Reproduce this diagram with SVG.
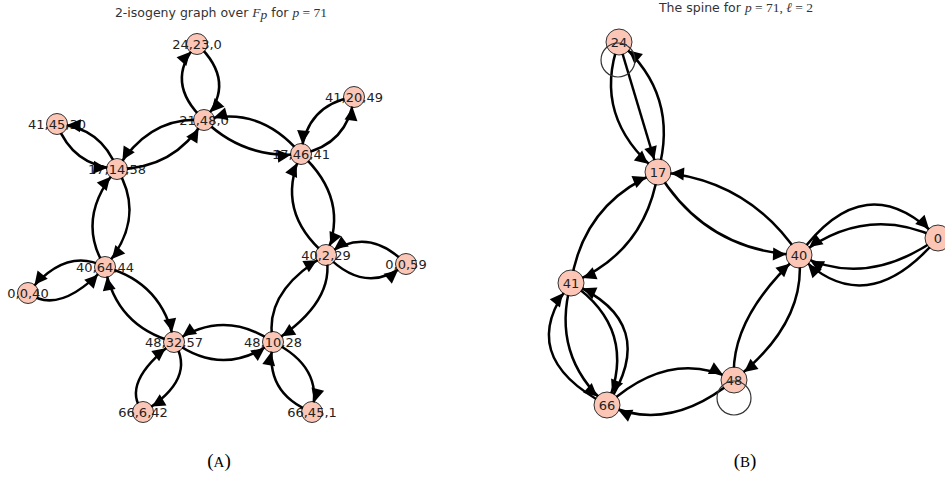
<svg xmlns="http://www.w3.org/2000/svg" width="945" height="478" viewBox="0 0 945 478">
<style>
.e{fill:none;stroke:#000;stroke-width:2.5}
.ea{marker-end:url(#arrA)}
.eb{marker-end:url(#arrB)}
.n{fill:#fbc6b6;stroke:#333;stroke-width:1}
.lbl{font-family:"DejaVu Sans",sans-serif;font-size:13px;fill:#222;text-anchor:middle}
.loop{fill:none;stroke:#333;stroke-width:1.2}
.title{font-family:"DejaVu Sans",sans-serif;font-size:12.5px;fill:#333;text-anchor:middle}
.math{font-family:"Liberation Serif",serif;font-style:italic;font-size:13.5px}
.num{font-family:"Liberation Serif",serif;font-size:13.5px}
.cap{font-family:"Liberation Serif",serif;font-size:19px;fill:#000;text-anchor:middle}
</style>
<defs>
<marker id="arrA" markerUnits="userSpaceOnUse" markerWidth="30" markerHeight="14" refX="23.5" refY="0" orient="auto" overflow="visible"><path d="M0,-6.5 L13,0 L0,6.5 z" fill="#000"/></marker>
<marker id="arrB" markerUnits="userSpaceOnUse" markerWidth="30" markerHeight="14" refX="26" refY="0" orient="auto" overflow="visible"><path d="M0,-6.5 L13,0 L0,6.5 z" fill="#000"/></marker>
<mask id="nodemask" maskUnits="userSpaceOnUse" x="0" y="0" width="945" height="478">
<rect x="0" y="0" width="945" height="478" fill="#fff"/>
<g fill="#000">
<circle cx="197" cy="44" r="10"/><circle cx="204" cy="120" r="10"/><circle cx="57" cy="124" r="10"/>
<circle cx="117" cy="169" r="10"/><circle cx="301" cy="154" r="10"/><circle cx="354" cy="97" r="10"/>
<circle cx="326" cy="255" r="10"/><circle cx="406" cy="264" r="10"/><circle cx="105" cy="267" r="10"/>
<circle cx="28" cy="293" r="10"/><circle cx="174" cy="342" r="10"/><circle cx="273" cy="342" r="10"/>
<circle cx="143" cy="412" r="10"/><circle cx="312" cy="412" r="10"/>
<circle cx="619" cy="42" r="12.5"/><circle cx="658" cy="172" r="12.5"/><circle cx="799" cy="255" r="12.5"/>
<circle cx="938" cy="238" r="12.5"/><circle cx="571" cy="283" r="12.5"/><circle cx="607" cy="405" r="12.5"/>
<circle cx="734" cy="380" r="12.5"/>
</g>
</mask>
</defs>
<rect width="945" height="478" fill="#fff"/>

<text class="title" x="221" y="17">2-isogeny graph over <tspan class="math">F</tspan><tspan class="math" font-size="9" dy="2">p</tspan><tspan dy="-2"> for </tspan><tspan class="math">p</tspan><tspan class="num"> = 71</tspan></text>
<text class="title" x="736" y="12">The spine for <tspan class="math">p</tspan><tspan class="num"> = 71, </tspan><tspan class="math">ℓ</tspan><tspan class="num"> = 2</tspan></text>

<g id="n-24-23-0"><circle class="n" cx="197" cy="44" r="10.5"/><text class="lbl" x="197" y="48.7">24,23,0</text></g>
<g id="n-21-48-0"><circle class="n" cx="204" cy="120" r="10.5"/><text class="lbl" x="204" y="124.7">21,48,0</text></g>
<g id="n-41-45-30"><circle class="n" cx="57" cy="124" r="10.5"/><text class="lbl" x="57" y="128.7">41,45,30</text></g>
<g id="n-17-14-58"><circle class="n" cx="117" cy="169" r="10.5"/><text class="lbl" x="117" y="173.7">17,14,58</text></g>
<g id="n-17-46-41"><circle class="n" cx="301" cy="154" r="10.5"/><text class="lbl" x="301" y="158.7">17,46,41</text></g>
<g id="n-41-20-49"><circle class="n" cx="354" cy="97" r="10.5"/><text class="lbl" x="354" y="101.7">41,20,49</text></g>
<g id="n-40-2-29"><circle class="n" cx="326" cy="255" r="10.5"/><text class="lbl" x="326" y="259.7">40,2,29</text></g>
<g id="n-0-0-59"><circle class="n" cx="406" cy="264" r="10.5"/><text class="lbl" x="406" y="268.7">0,0,59</text></g>
<g id="n-40-64-44"><circle class="n" cx="105" cy="267" r="10.5"/><text class="lbl" x="105" y="271.7">40,64,44</text></g>
<g id="n-0-0-40"><circle class="n" cx="28" cy="293" r="10.5"/><text class="lbl" x="28" y="297.7">0,0,40</text></g>
<g id="n-48-32-57"><circle class="n" cx="174" cy="342" r="10.5"/><text class="lbl" x="174" y="346.7">48,32,57</text></g>
<g id="n-48-10-28"><circle class="n" cx="273" cy="342" r="10.5"/><text class="lbl" x="273" y="346.7">48,10,28</text></g>
<g id="n-66-6-42"><circle class="n" cx="143" cy="412" r="10.5"/><text class="lbl" x="143" y="416.7">66,6,42</text></g>
<g id="n-66-45-1"><circle class="n" cx="312" cy="412" r="10.5"/><text class="lbl" x="312" y="416.7">66,45,1</text></g>

<g id="s-24"><circle class="n" cx="619" cy="42" r="13"/><text class="lbl" x="619" y="46.7">24</text></g>
<g id="s-17"><circle class="n" cx="658" cy="172" r="13"/><text class="lbl" x="658" y="176.7">17</text></g>
<g id="s-40"><circle class="n" cx="799" cy="255" r="13"/><text class="lbl" x="799" y="259.7">40</text></g>
<g id="s-0"><circle class="n" cx="938" cy="238" r="13"/><text class="lbl" x="938" y="242.7">0</text></g>
<g id="s-41"><circle class="n" cx="571" cy="283" r="13"/><text class="lbl" x="571" y="287.7">41</text></g>
<g id="s-66"><circle class="n" cx="607" cy="405" r="13"/><text class="lbl" x="607" y="409.7">66</text></g>
<g id="s-48"><circle class="n" cx="734" cy="380" r="13"/><text class="lbl" x="734" y="384.7">48</text></g>

<g id="connectors">
<g mask="url(#nodemask)">
<g class="e ea">
<path d="M204,120 Q163.5,82 197,44"/>
<path d="M197,44 Q237.5,82 204,120"/>
<path d="M204,120 Q149.5,115.5 117,169"/>
<path d="M117,169 Q174.3,168.9 204,120"/>
<path d="M301,154 Q259.5,105 204,120"/>
<path d="M204,120 Q244.5,159.6 301,154"/>
<path d="M117,169 Q101.4,127.3 57,124"/>
<path d="M57,124 Q72.6,165.7 117,169"/>
<path d="M354,97 Q306.5,104.5 301,154"/>
<path d="M301,154 Q347.9,144.5 354,97"/>
<path d="M301,154 Q350.5,199.5 326,255"/>
<path d="M326,255 Q274.5,211.5 301,154"/>
<path d="M406,264 Q368,224.5 326,255"/>
<path d="M326,255 Q366,296.5 406,264"/>
<path d="M326,255 Q336.5,301.5 273,342"/>
<path d="M273,342 Q262.5,291.5 326,255"/>
<path d="M273,342 Q223.5,308 174,342"/>
<path d="M174,342 Q223.5,378 273,342"/>
<path d="M273,342 Q323.5,367 312,412"/>
<path d="M312,412 Q263.5,393 273,342"/>
<path d="M143,412 Q119.5,383 174,342"/>
<path d="M174,342 Q197.5,379 143,412"/>
<path d="M105,267 Q163.1,282.9 174,342"/>
<path d="M174,342 Q115.9,326.1 105,267"/>
<path d="M105,267 Q65.5,246 28,293"/>
<path d="M28,293 Q59.5,316 105,267"/>
<path d="M105,267 Q75,218 117,169"/>
<path d="M117,169 Q147,218 105,267"/>
</g>
<g class="e eb">
<path d="M619,42 L658,172"/>
<path d="M619,42 Q591.5,117 658,172"/>
<path d="M658,172 Q680,94.6 619,42"/>
<path d="M571,283 Q583,203 658,172"/>
<path d="M658,172 Q645.5,252.5 571,283"/>
<path d="M799,255 Q748.7,179.1 658,172"/>
<path d="M658,172 Q706.1,251.5 799,255"/>
<path d="M799,255 Q865.5,163.5 938,238"/>
<path d="M938,238 Q865.5,203.5 799,255"/>
<path d="M938,238 Q865.5,289.5 799,255"/>
<path d="M938,238 Q865.5,323.5 799,255"/>
<path d="M607,405 Q513,356 571,283"/>
<path d="M571,283 Q550.6,355.4 607,405"/>
<path d="M571,283 Q638.9,329.3 607,405"/>
<path d="M607,405 Q661.9,322.5 571,283"/>
<path d="M607,405 Q670.5,347.5 734,380"/>
<path d="M734,380 Q669.5,433.5 607,405"/>
<path d="M734,380 Q729.5,318.5 799,255"/>
<path d="M799,255 Q807.5,322.5 734,380"/>
</g>
</g>
<circle class="loop" cx="618" cy="60" r="17"/>
<circle class="loop" cx="734" cy="398" r="17"/>
</g>

<text class="cap" x="219" y="467">(<tspan font-size="15">A</tspan>)</text>
<text class="cap" x="745" y="467">(<tspan font-size="15">B</tspan>)</text>
</svg>
